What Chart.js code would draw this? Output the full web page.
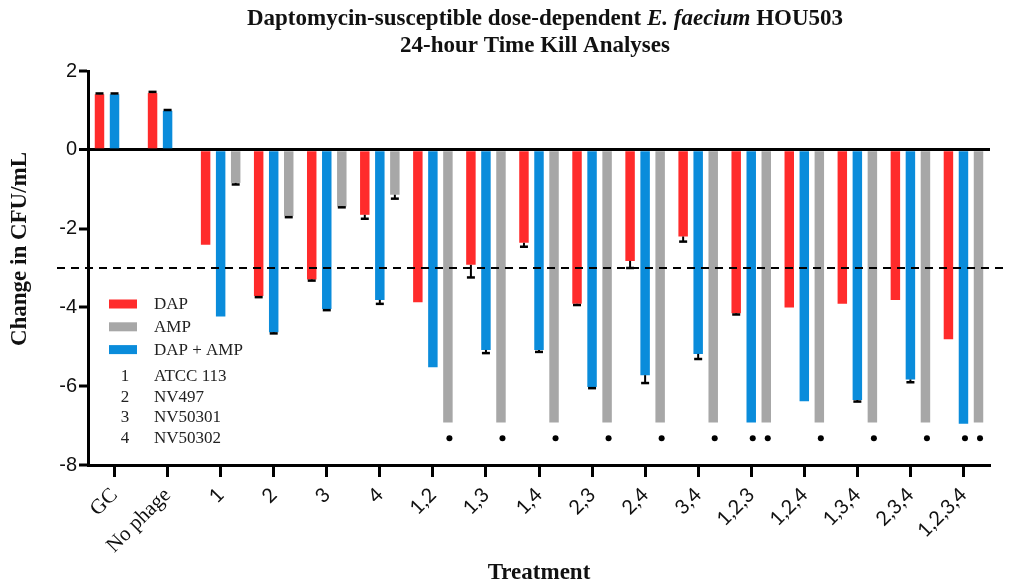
<!DOCTYPE html>
<html>
<head>
<meta charset="utf-8">
<script src="https://cdn.jsdelivr.net/npm/chart.js@4/dist/chart.umd.min.js"></script>
<style>
  html, body { margin: 0; padding: 0; background: #fff; }
  #wrap { width: 1010px; height: 584px; }
</style>
</head>
<body>
<div id="wrap"><canvas id="chart" width="1010" height="584"></canvas></div>
<script>
// ── data ─────────────────────────────────────────────────────────────────
const categories = ['GC', 'No phage', '1', '2', '3', '4', '1,2', '1,3', '1,4', '2,3', '2,4', '3,4',
                    '1,2,3', '1,2,4', '1,3,4', '2,3,4', '1,2,3,4'];

const dapValues   = [1.41, 1.44, -2.41, -3.71, -3.29, -1.65, -3.87, -2.92, -2.36, -3.91, -2.82, -2.20,
                     -4.15, -4.00, -3.91, -3.81, -4.81];
const comboValues = [1.41, 0.99, -4.23, -4.63, -4.04, -3.81, -5.52, -5.08, -5.08, -6.02, -5.72, -5.18,
                     -6.92, -6.38, -6.35, -5.83, -6.95];
const ampValues   = [null, null, -0.84, -1.68, -1.44, -1.14, -6.92, -6.92, -6.92, -6.92, -6.92, -6.92,
                     -6.92, -6.92, -6.92, -6.92, -6.92];

// error bar sizes (SD)
const dapErr   = [0.02, 0.03, 0, 0.03, 0.03, 0.10, 0, 0.32, 0.10, 0.03, 0.18, 0.13, 0.03, 0, 0, 0, 0];
const comboErr = [0.02, 0.02, 0, 0.03, 0.03, 0.10, 0, 0.08, 0.05, 0.03, 0.20, 0.13, 0, 0, 0.04, 0.07, 0];
const ampErr   = [0, 0, 0.04, 0.03, 0.02, 0.10, 0, 0, 0, 0, 0, 0, 0, 0, 0, 0, 0];

// significance dots (below detection limit)
const comboDots = [0, 0, 0, 0, 0, 0, 0, 0, 0, 0, 0, 0, 1, 0, 0, 0, 1];
const ampDots   = [0, 0, 0, 0, 0, 0, 1, 1, 1, 1, 1, 1, 1, 1, 1, 1, 1];
const dotLevel  = -7.32;

const yTicks     = [2, 0, -2, -4, -6, -8];
const killLine   = -3;
const legendOrder = ['DAP', 'AMP', 'DAP + AMP'];
const phageIds   = ['1', '2', '3', '4'];
const phageNames = ['ATCC 113', 'NV497', 'NV50301', 'NV50302'];

const RED  = '#ff2b2b';
const BLUE = '#0a8cdb';
const GRAY = '#a7a7a7';
const SERIF = '"Liberation Serif", "DejaVu Serif", serif';
const SANS  = '"Liberation Sans", Arial, sans-serif';

// ── plugins ──────────────────────────────────────────────────────────────
const errorBars = {
  id: 'errorBars',
  afterDatasetsDraw(chart) {
    const ctx = chart.ctx, y = chart.scales.y;
    chart.data.datasets.forEach((ds, i) => {
      const meta = chart.getDatasetMeta(i);
      ds.errors.forEach((e, j) => {
        const v = ds.data[j];
        if (v == null || !e) return;
        const bar = meta.data[j];
        const end = y.getPixelForValue(v + (v < 0 ? -e : e));
        ctx.save();
        ctx.strokeStyle = '#000';
        ctx.lineWidth = 2;
        ctx.beginPath();
        ctx.moveTo(bar.x, bar.y);
        ctx.lineTo(bar.x, end);
        ctx.stroke();
        ctx.lineWidth = 2.5;
        ctx.beginPath();
        ctx.moveTo(bar.x - 4, end);
        ctx.lineTo(bar.x + 4, end);
        ctx.stroke();
        ctx.restore();
      });
    });
  }
};

const sigDots = {
  id: 'sigDots',
  afterDatasetsDraw(chart) {
    const ctx = chart.ctx, y = chart.scales.y;
    chart.data.datasets.forEach((ds, i) => {
      const meta = chart.getDatasetMeta(i);
      (ds.dots || []).forEach((d, j) => {
        if (!d) return;
        ctx.save();
        ctx.fillStyle = '#000';
        ctx.beginPath();
        ctx.arc(meta.data[j].x + 1.5, y.getPixelForValue(dotLevel), 3, 0, Math.PI * 2);
        ctx.fill();
        ctx.restore();
      });
    });
  }
};

const killLinePlugin = {
  id: 'killLine',
  afterDatasetsDraw(chart) {
    const ctx = chart.ctx, a = chart.chartArea;
    const py = chart.scales.y.getPixelForValue(killLine);
    ctx.save();
    ctx.strokeStyle = '#000';
    ctx.lineWidth = 2;
    ctx.setLineDash([8, 6]);
    ctx.beginPath();
    ctx.moveTo(a.left - 31, py);
    ctx.lineTo(a.right + 13, py);
    ctx.stroke();
    ctx.restore();
  }
};

const textPlugin = {
  id: 'texts',
  afterDraw(chart) {
    const ctx = chart.ctx, a = chart.chartArea;
    ctx.save();
    ctx.fillStyle = '#111';
    ctx.textBaseline = 'middle';

    // title, line 1 with italic species name
    const parts = [
      ['Daptomycin-susceptible dose-dependent ', 'bold 23px ' + SERIF],
      ['E. faecium', 'italic bold 23px ' + SERIF],
      [' HOU503', 'bold 23px ' + SERIF]
    ];
    let total = 0;
    parts.forEach(p => { ctx.font = p[1]; total += ctx.measureText(p[0]).width; });
    let x = 545 - total / 2;
    ctx.textAlign = 'left';
    parts.forEach(p => { ctx.font = p[1]; ctx.fillText(p[0], x, 19); x += ctx.measureText(p[0]).width; });
    ctx.font = 'bold 23px ' + SERIF;
    ctx.textAlign = 'center';
    ctx.fillText('24-hour Time Kill Analyses', 535, 46);

    // axis titles
    ctx.fillText('Treatment', (a.left + a.right) / 2, 573);
    ctx.save();
    ctx.translate(20, 249);
    ctx.rotate(-Math.PI / 2);
    ctx.fillText('Change in CFU/mL', 0, 0);
    ctx.restore();

    // legend
    const byLabel = {};
    chart.data.datasets.forEach(ds => { byLabel[ds.label] = ds.backgroundColor; });
    ctx.font = '17px ' + SERIF;
    ctx.textAlign = 'left';
    legendOrder.forEach((lab, k) => {
      const cy = a.top + 233 + k * 22.8;
      ctx.fillStyle = byLabel[lab];
      ctx.fillRect(a.left + 21, cy - 4.5, 28, 9);
      ctx.fillStyle = '#222';
      ctx.fillText(lab, a.left + 66, cy + 1);
    });
    phageIds.forEach((id, k) => {
      const cy = a.top + 306 + k * 20.4;
      ctx.textAlign = 'center';
      ctx.fillText(id, a.left + 37, cy);
      ctx.textAlign = 'left';
      ctx.fillText(phageNames[k], a.left + 66, cy);
    });
    ctx.restore();
  }
};

// ── chart ────────────────────────────────────────────────────────────────
new Chart(document.getElementById('chart'), {
  type: 'bar',
  data: {
    labels: categories,
    datasets: [
      { label: 'DAP',       data: dapValues,   backgroundColor: RED,  errors: dapErr },
      { label: 'DAP + AMP', data: comboValues, backgroundColor: BLUE, errors: comboErr, dots: comboDots },
      { label: 'AMP',       data: ampValues,   backgroundColor: GRAY, errors: ampErr,   dots: ampDots }
    ]
  },
  options: {
    responsive: false,
    animation: false,
    devicePixelRatio: 1,
    categoryPercentage: 0.85,
    barPercentage: 0.63,
    layout: { padding: { top: 71, right: 20, left: 0, bottom: 0 } },
    plugins: {
      legend: { display: false },
      title: { display: false },
      tooltip: { enabled: false }
    },
    scales: {
      x: {
        afterFit(s) { s.height = 119; },
        grid: {
          offset: false,
          drawOnChartArea: false,
          tickLength: 12,
          tickColor: '#000',
          tickWidth: 3
        },
        border: { color: '#000', width: 3 },
        ticks: {
          autoSkip: false,
          minRotation: 45,
          maxRotation: 45,
          padding: 6,
          color: '#111',
          font: c => (c.index < 2
            ? { family: SERIF, size: 21 }
            : { family: 'Lato, "Open Sans", sans-serif', size: 20 })
        }
      },
      y: {
        min: -8,
        max: 2,
        afterFit(s) { s.width = 88; },
        afterBuildTicks(s) { s.ticks = yTicks.map(v => ({ value: v })); },
        grid: {
          color: c => (c.tick && c.tick.value === 0 ? '#000' : 'rgba(0,0,0,0)'),
          lineWidth: c => (c.tick && c.tick.value === 0 ? 3 : 0),
          tickLength: 9,
          tickColor: '#000',
          tickWidth: 3
        },
        border: { color: '#000', width: 3 },
        ticks: {
          padding: 2,
          color: '#111',
          font: { family: SANS, size: 20 }
        }
      }
    }
  },
  plugins: [killLinePlugin, errorBars, sigDots, textPlugin]
});
</script>
</body>
</html>
